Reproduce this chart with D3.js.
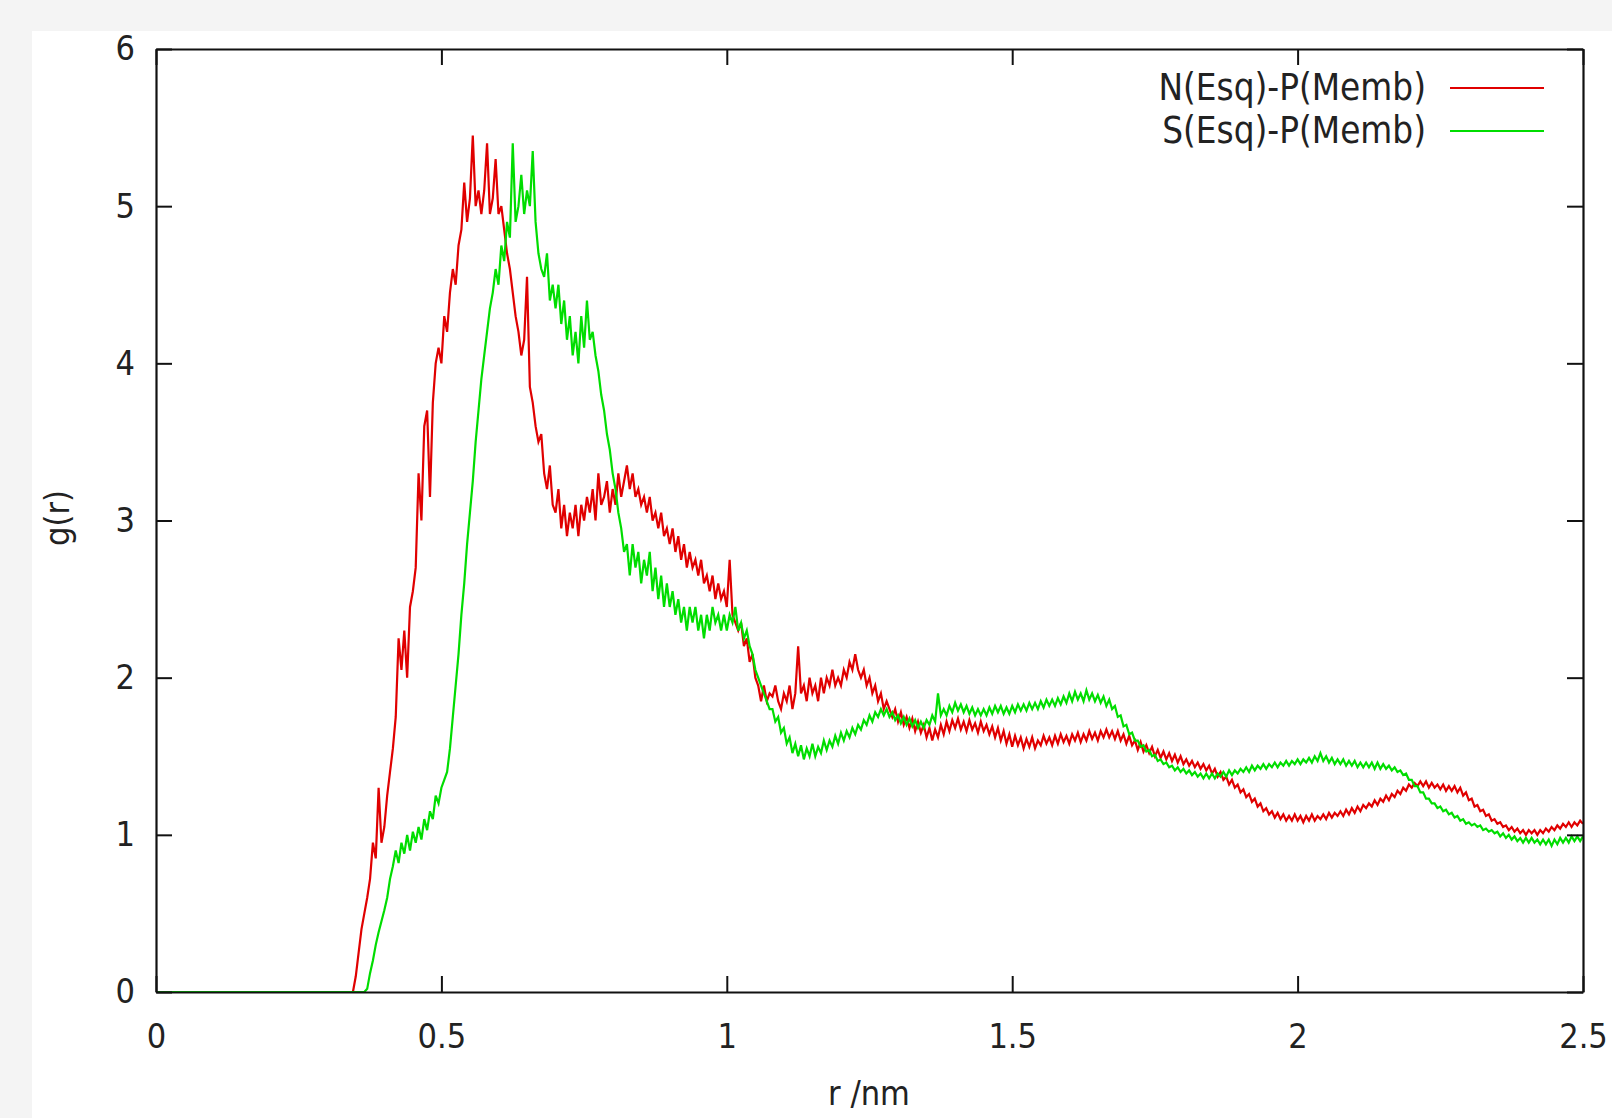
<!DOCTYPE html>
<html>
<head>
<meta charset="utf-8">
<script src="https://cdn.jsdelivr.net/npm/d3@7/dist/d3.min.js"></script>
<style>
  html, body { margin: 0; padding: 0; background: #f4f4f4; }
  svg { display: block; }
  text { font-family: "DejaVu Sans Condensed", "DejaVu Sans", sans-serif; fill: #222; }
</style>
</head>
<body>
<svg id="chart" width="1612" height="1118"></svg>
<script>
// ---- data (g(r) sampled every 0.005 nm from r = 0 to 2.5) ----
const rStart = 0;
const rStep = 0.005;
const xTicks = [0, 0.5, 1, 1.5, 2, 2.5];
const xTickLabels = ["0", "0.5", "1", "1.5", "2", "2.5"];
const yTicks = [0, 1, 2, 3, 4, 5, 6];
const yTickLabels = ["0", "1", "2", "3", "4", "5", "6"];
const seriesNames = ["N(Esq)-P(Memb)", "S(Esq)-P(Memb)"];
const xLabel = "r /nm";
const yLabel = "g(r)";

const gN = [
  0,0,0,0,0,0,0,0,0,0,
  0,0,0,0,0,0,0,0,0,0,
  0,0,0,0,0,0,0,0,0,0,
  0,0,0,0,0,0,0,0,0,0,
  0,0,0,0,0,0,0,0,0,0,
  0,0,0,0,0,0,0,0,0,0,
  0,0,0,0,0,0,0,0,0,0,
  0.1,0.25,0.4,0.5,0.6,0.72,0.95,0.85,1.3,0.95,
  1.05,1.25,1.4,1.55,1.75,2.25,2.05,2.3,2.0,2.45,
  2.55,2.7,3.3,3.0,3.6,3.7,3.15,3.75,4.0,4.1,
  4.0,4.3,4.2,4.45,4.6,4.5,4.75,4.85,5.15,4.9,
  5.05,5.45,5.0,5.1,4.95,5.1,5.4,4.95,5.05,5.3,
  4.95,5.0,4.85,4.7,4.6,4.45,4.3,4.2,4.05,4.15,
  4.55,3.85,3.75,3.6,3.5,3.55,3.3,3.2,3.35,3.1,
  3.05,3.2,2.95,3.1,2.9,3.05,2.95,3.1,2.9,3.1,
  3.0,3.15,3.05,3.2,3.0,3.3,3.1,3.15,3.25,3.05,
  3.2,3.1,3.3,3.15,3.25,3.35,3.2,3.3,3.15,3.2,
  3.1,3.15,3.05,3.15,3.0,3.05,2.95,3.05,2.9,2.95,
  2.85,2.95,2.8,2.9,2.75,2.85,2.7,2.8,2.7,2.75,
  2.65,2.75,2.6,2.65,2.55,2.65,2.5,2.6,2.5,2.55,
  2.45,2.75,2.4,2.35,2.3,2.35,2.2,2.25,2.1,2.15,
  2.0,1.95,1.85,1.95,1.85,1.9,1.88,1.95,1.85,1.8,
  1.9,1.85,1.95,1.8,1.9,2.2,1.9,1.95,1.85,2.0,
  1.9,1.95,1.85,2.0,1.9,2.0,1.95,2.05,1.95,2.0,
  1.95,2.05,2.0,2.1,2.05,2.15,2.05,2.0,2.05,1.95,
  2.0,1.9,1.95,1.85,1.9,1.8,1.85,1.8,1.75,1.8,
  1.72,1.78,1.7,1.75,1.68,1.74,1.66,1.72,1.65,1.7,
  1.62,1.68,1.6,1.67,1.62,1.7,1.64,1.72,1.66,1.73,
  1.68,1.74,1.67,1.72,1.66,1.73,1.67,1.71,1.65,1.72,
  1.66,1.7,1.64,1.69,1.62,1.68,1.6,1.66,1.58,1.64,
  1.56,1.63,1.57,1.62,1.55,1.61,1.56,1.62,1.55,1.6,
  1.57,1.63,1.58,1.62,1.57,1.63,1.58,1.64,1.59,1.63,
  1.58,1.64,1.6,1.65,1.59,1.64,1.6,1.66,1.61,1.65,
  1.6,1.66,1.62,1.67,1.62,1.66,1.61,1.66,1.6,1.64,
  1.58,1.63,1.57,1.6,1.54,1.59,1.53,1.57,1.52,1.56,
  1.5,1.54,1.49,1.53,1.48,1.52,1.47,1.51,1.46,1.5,
  1.45,1.48,1.44,1.47,1.43,1.46,1.42,1.45,1.41,1.44,
  1.39,1.42,1.37,1.4,1.35,1.37,1.32,1.35,1.3,1.32,
  1.27,1.29,1.24,1.26,1.21,1.23,1.18,1.2,1.15,1.17,
  1.13,1.15,1.11,1.14,1.1,1.13,1.09,1.12,1.09,1.13,
  1.09,1.12,1.08,1.12,1.09,1.13,1.09,1.12,1.1,1.13,
  1.1,1.14,1.11,1.14,1.12,1.15,1.12,1.16,1.13,1.17,
  1.14,1.18,1.15,1.19,1.17,1.2,1.18,1.22,1.19,1.23,
  1.21,1.25,1.22,1.26,1.24,1.28,1.26,1.3,1.28,1.32,
  1.3,1.33,1.31,1.34,1.31,1.34,1.3,1.33,1.3,1.32,
  1.29,1.32,1.28,1.31,1.28,1.31,1.27,1.3,1.25,1.27,
  1.22,1.23,1.18,1.19,1.15,1.16,1.12,1.13,1.09,1.1,
  1.07,1.08,1.05,1.06,1.03,1.05,1.02,1.04,1.01,1.03,
  1.0,1.03,1.01,1.03,1.0,1.03,1.01,1.04,1.02,1.05,
  1.03,1.06,1.04,1.07,1.05,1.08,1.05,1.08,1.06,1.09,
  1.07
];

const gS = [
  0,0,0,0,0,0,0,0,0,0,
  0,0,0,0,0,0,0,0,0,0,
  0,0,0,0,0,0,0,0,0,0,
  0,0,0,0,0,0,0,0,0,0,
  0,0,0,0,0,0,0,0,0,0,
  0,0,0,0,0,0,0,0,0,0,
  0,0,0,0,0,0,0,0,0,0,
  0,0,0,0,0.02,0.12,0.2,0.3,0.38,0.45,
  0.52,0.6,0.72,0.8,0.9,0.82,0.95,0.88,1.0,0.9,
  1.02,0.95,1.05,0.97,1.1,1.03,1.15,1.1,1.25,1.2,
  1.3,1.35,1.4,1.55,1.75,1.95,2.15,2.4,2.6,2.85,
  3.05,3.25,3.5,3.7,3.9,4.05,4.2,4.35,4.45,4.6,
  4.5,4.75,4.65,4.9,4.8,5.4,4.9,5.0,5.2,4.95,
  5.1,5.0,5.35,4.9,4.7,4.6,4.55,4.7,4.4,4.5,
  4.35,4.5,4.25,4.4,4.15,4.3,4.05,4.2,4.0,4.3,
  4.1,4.4,4.15,4.2,4.05,3.95,3.8,3.7,3.55,3.45,
  3.3,3.2,3.05,2.95,2.8,2.85,2.65,2.85,2.7,2.8,
  2.6,2.75,2.65,2.8,2.55,2.7,2.5,2.65,2.45,2.6,
  2.45,2.55,2.4,2.5,2.35,2.45,2.3,2.45,2.35,2.45,
  2.3,2.4,2.25,2.4,2.3,2.45,2.35,2.4,2.3,2.4,
  2.3,2.4,2.35,2.45,2.3,2.35,2.25,2.3,2.2,2.15,
  2.05,2.0,1.95,1.9,1.85,1.8,1.8,1.72,1.75,1.65,
  1.68,1.58,1.62,1.52,1.58,1.5,1.57,1.48,1.55,1.5,
  1.58,1.5,1.56,1.52,1.6,1.54,1.6,1.56,1.63,1.58,
  1.65,1.6,1.66,1.62,1.68,1.64,1.7,1.67,1.73,1.7,
  1.76,1.72,1.78,1.75,1.8,1.76,1.8,1.75,1.78,1.73,
  1.76,1.71,1.75,1.7,1.74,1.69,1.73,1.68,1.72,1.68,
  1.73,1.7,1.76,1.72,1.9,1.76,1.8,1.76,1.82,1.78,
  1.84,1.79,1.83,1.78,1.82,1.77,1.81,1.76,1.8,1.76,
  1.8,1.76,1.81,1.77,1.82,1.78,1.82,1.77,1.81,1.77,
  1.82,1.78,1.83,1.79,1.83,1.79,1.84,1.8,1.84,1.8,
  1.85,1.81,1.86,1.82,1.86,1.82,1.87,1.83,1.88,1.84,
  1.9,1.85,1.91,1.86,1.9,1.85,1.92,1.86,1.9,1.85,
  1.89,1.84,1.88,1.82,1.86,1.8,1.82,1.75,1.76,1.69,
  1.7,1.64,1.65,1.6,1.6,1.56,1.57,1.53,1.54,1.5,
  1.51,1.47,1.48,1.45,1.46,1.43,1.44,1.41,1.43,1.4,
  1.42,1.39,1.41,1.38,1.4,1.37,1.39,1.36,1.39,1.36,
  1.39,1.36,1.39,1.37,1.4,1.37,1.41,1.38,1.41,1.39,
  1.42,1.4,1.43,1.4,1.44,1.41,1.44,1.42,1.45,1.42,
  1.45,1.43,1.46,1.43,1.46,1.44,1.47,1.44,1.47,1.45,
  1.48,1.45,1.48,1.46,1.49,1.46,1.5,1.47,1.52,1.47,
  1.5,1.46,1.49,1.45,1.48,1.45,1.48,1.44,1.47,1.44,
  1.47,1.43,1.46,1.43,1.46,1.43,1.46,1.42,1.46,1.42,
  1.45,1.42,1.44,1.41,1.43,1.4,1.41,1.38,1.39,1.35,
  1.35,1.31,1.31,1.27,1.27,1.23,1.23,1.2,1.2,1.17,
  1.18,1.15,1.16,1.13,1.14,1.11,1.12,1.09,1.1,1.07,
  1.08,1.06,1.07,1.05,1.06,1.03,1.04,1.02,1.03,1.01,
  1.02,0.99,1.01,0.98,1.0,0.97,0.99,0.96,0.98,0.95,
  0.98,0.95,0.98,0.95,0.97,0.94,0.97,0.94,0.97,0.93,
  0.97,0.94,0.98,0.95,0.98,0.95,0.99,0.96,0.99,0.96,
  0.99
];

const seriesValues = [gN, gS];
const seriesColors = ["#e00000", "#00dd00"];

// ---- layout ----
const W = 1612, H = 1118;
const plot = { left: 156, right: 1583, top: 49, bottom: 992 };
const svg = d3.select("#chart");

svg.append("rect").attr("x", 0).attr("y", 0).attr("width", W).attr("height", H).attr("fill", "#f4f4f4");
svg.append("rect").attr("x", 32).attr("y", 31).attr("width", W - 32).attr("height", H - 31).attr("fill", "#ffffff");

const x = d3.scaleLinear().domain([0, 2.5]).range([plot.left, plot.right]);
const y = d3.scaleLinear().domain([0, 6]).range([plot.bottom, plot.top]);

svg.append("clipPath").attr("id", "plotclip")
  .append("rect").attr("x", plot.left).attr("y", plot.top)
  .attr("width", plot.right - plot.left).attr("height", plot.bottom - plot.top);

// ---- series ----
const line = d3.line()
  .x((d, i) => x(rStart + i * rStep))
  .y(d => y(d));

const gLines = svg.append("g").attr("clip-path", "url(#plotclip)");
seriesValues.forEach((vals, k) => {
  gLines.append("path")
    .datum(vals)
    .attr("fill", "none")
    .attr("stroke", seriesColors[k])
    .attr("stroke-width", 2.2)
    .attr("stroke-linejoin", "miter")
    .attr("d", line);
});

// ---- axes (gnuplot style: ticks inward, mirrored) ----
const tickLen = 16;
const fmtX = (d, i) => xTickLabels[i];
const fmtY = (d, i) => yTickLabels[i];

const axB = svg.append("g").attr("transform", `translate(0,${plot.bottom})`)
  .call(d3.axisBottom(x).tickValues(xTicks).tickFormat(fmtX).tickSizeInner(-tickLen).tickSizeOuter(0).tickPadding(32));
const axT = svg.append("g").attr("transform", `translate(0,${plot.top})`)
  .call(d3.axisTop(x).tickValues(xTicks).tickFormat("").tickSizeInner(-tickLen).tickSizeOuter(0));
const axL = svg.append("g").attr("transform", `translate(${plot.left},0)`)
  .call(d3.axisLeft(y).tickValues(yTicks).tickFormat(fmtY).tickSizeInner(-tickLen).tickSizeOuter(0).tickPadding(21));
const axR = svg.append("g").attr("transform", `translate(${plot.right},0)`)
  .call(d3.axisRight(y).tickValues(yTicks).tickFormat("").tickSizeInner(-tickLen).tickSizeOuter(0));

[axB, axT, axL, axR].forEach(a => {
  a.select(".domain").attr("stroke", "#111").attr("stroke-width", 2.2);
  a.selectAll(".tick line").attr("stroke", "#111").attr("stroke-width", 2);
  a.selectAll("text").style("font-family", '"DejaVu Sans Condensed", "DejaVu Sans", sans-serif')
    .style("font-size", "34px").attr("fill", "#222");
});

// ---- axis titles ----
svg.append("text").attr("x", 869).attr("y", 1105).attr("text-anchor", "middle")
  .style("font-size", "34px").text(xLabel);
svg.append("text").attr("transform", "translate(69,518) rotate(-90)").attr("text-anchor", "middle")
  .style("font-size", "34px").text(yLabel);

// ---- legend ----
const legendRows = [88, 131];
seriesNames.forEach((name, k) => {
  svg.append("text").attr("x", 1426).attr("y", legendRows[k] + 12).attr("text-anchor", "end")
    .style("font-size", "36.5px").text(name);
  svg.append("line").attr("x1", 1450).attr("x2", 1544).attr("y1", legendRows[k]).attr("y2", legendRows[k])
    .attr("stroke", seriesColors[k]).attr("stroke-width", 1.8);
});
</script>
</body>
</html>
